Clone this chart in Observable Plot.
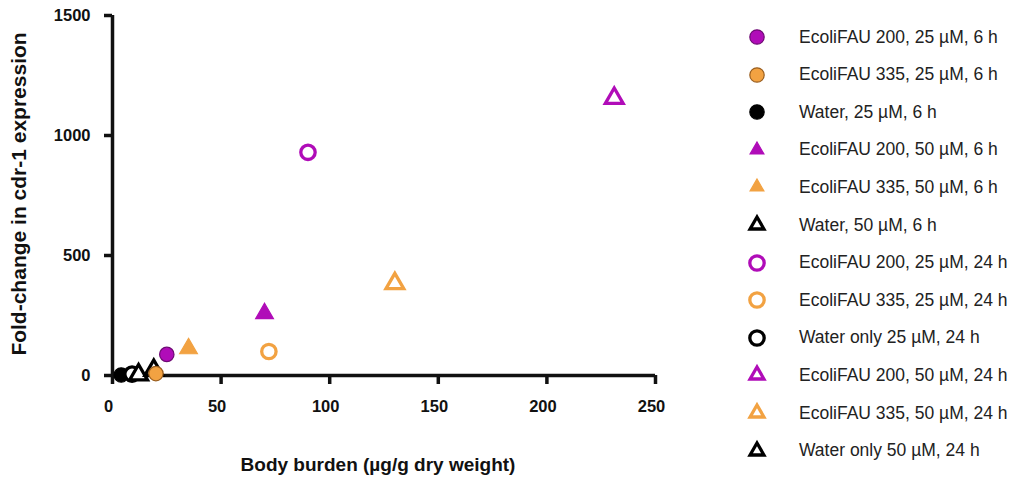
<!DOCTYPE html>
<html>
<head>
<meta charset="utf-8">
<script src="https://cdn.jsdelivr.net/npm/d3@7"></script>
<script src="https://cdn.jsdelivr.net/npm/@observablehq/plot@0.6"></script>
<style>
  html, body { margin: 0; padding: 0; background: #fff; }
  #wrap { position: relative; width: 1014px; height: 485px; overflow: hidden; font-family: "Liberation Sans", Arial, Helvetica, sans-serif; }
  #chart { position: absolute; left: 0; top: 0; }
  .ytitle { position: absolute; left: 19px; top: 194px; transform: translate(-50%, -50%) rotate(-90deg); white-space: nowrap; font-weight: bold; font-size: 21px; color: #111; }
  .xtitle { position: absolute; left: 378px; top: 465px; transform: translate(-50%, -50%); white-space: nowrap; font-weight: bold; font-size: 19px; color: #111; }
  #legend { position: absolute; left: 0; top: 0; }
  .lrow { position: absolute; left: 742px; height: 30px; display: flex; align-items: center; transform: translateY(-50%); white-space: nowrap; }
  .lrow svg { width: 30px; height: 30px; }
  .lrow span { position: absolute; left: 57px; font-size: 17.5px; color: #222; }
</style>
</head>
<body>
<div id="wrap">
  <div id="chart"></div>
  <div class="ytitle">Fold-change in cdr-1 expression</div>
  <div class="xtitle">Body burden (µg/g dry weight)</div>
  <div id="legend"></div>
</div>
<script>
// ---- Data ----
const seriesNames = [
  "EcoliFAU 200, 25 µM, 6 h",
  "EcoliFAU 335, 25 µM, 6 h",
  "Water, 25 µM, 6 h",
  "EcoliFAU 200, 50 µM, 6 h",
  "EcoliFAU 335, 50 µM, 6 h",
  "Water, 50 µM, 6 h",
  "EcoliFAU 200, 25 µM, 24 h",
  "EcoliFAU 335, 25 µM, 24 h",
  "Water only 25 µM, 24 h",
  "EcoliFAU 200, 50 µM, 24 h",
  "EcoliFAU 335, 50 µM, 24 h",
  "Water only 50 µM, 24 h"
];
const seriesSymbol = ["circle","circle","circle","triangle","triangle","triangle",
                      "circle","circle","circle","triangle","triangle","triangle"];
const seriesOpen = [false,false,false,false,false,true,true,true,true,true,true,true];
const seriesColor = ["#B00CB8","#F2A242","#000000","#B00CB8","#F2A242","#000000",
                     "#B00CB8","#F2A242","#000000","#B00CB8","#F2A242","#000000"];
const seriesOutline = ["#6E0A74","#9A5E1E","#000000","#B00CB8","#F2A242","#000000",
                       "#B00CB8","#F2A242","#000000","#B00CB8","#F2A242","#000000"];

// one point per series
const bodyBurden = [25, 20, 4, 70, 35, 19, 90, 72, 9, 231, 130, 12];
const foldChange = [88, 8, 2, 258, 112, 22, 930, 100, 6, 1155, 383, 3];

// draw order (back to front)
const drawOrder = [2, 8, 11, 5, 1, 0, 4, 3, 7, 6, 10, 9];

const xTicks = [0, 50, 100, 150, 200, 250];
const yTicks = [0, 500, 1000, 1500];

// ---- Build ----
const points = bodyBurden.map((x, i) => ({x, y: foldChange[i], s: i}));

function dotFor(i) {
  const open = seriesOpen[i];
  const tri = seriesSymbol[i] === "triangle";
  return Plot.dot(points.filter(p => p.s === i), {
    x: "x", y: "y",
    symbol: seriesSymbol[i],
    r: tri ? 6.6 : 7.2,
    fill: open ? "white" : seriesColor[i],
    stroke: seriesOutline[i],
    strokeWidth: open ? 3.3 : 1.2
  });
}

const chart = Plot.plot({
  width: 700,
  height: 485,
  marginLeft: 112,
  marginRight: 45,
  marginTop: 15,
  marginBottom: 110,
  x: {domain: [0, 250]},
  y: {domain: [0, 1500]},
  style: {fontFamily: "'Liberation Sans', Arial, Helvetica, sans-serif", background: "white", color: "#111", overflow: "visible"},
  marks: [
    // x ticks (marks only)
    Plot.axisX({ticks: xTicks, tickSize: 9, strokeWidth: 3.5, text: null, label: null}),
    // x tick labels, nudged slightly left as in the reference
    Plot.axisX({ticks: xTicks, tickSize: 0, tickPadding: 25, fontSize: 16.5, fontWeight: "bold", tickFormat: d3.format("d"), label: null, dx: -4}),
    Plot.axisY({ticks: yTicks, tickSize: 8, tickPadding: 14, strokeWidth: 3.5, fontSize: 16.5, fontWeight: "bold", tickFormat: d3.format("d"), label: null}),
    Plot.ruleY([0], {strokeWidth: 3.5, stroke: "#111"}),
    Plot.ruleX([0], {strokeWidth: 3.5, stroke: "#111"}),
    ...drawOrder.map(dotFor)
  ]
});
document.getElementById("chart").appendChild(chart);

// ---- Legend ----
const legend = d3.select("#legend");
seriesNames.forEach((name, i) => {
  const row = legend.append("div").attr("class", "lrow").style("top", (37 + i * 37.6) + "px");
  const svg = row.append("svg").attr("viewBox", "-15 -15 30 30");
  const tri = seriesSymbol[i] === "triangle";
  const r = tri ? 6.6 : 7.2;
  const open = seriesOpen[i];
  svg.append("path")
    .attr("d", d3.symbol(tri ? d3.symbolTriangle2 : d3.symbolCircle, Math.PI * r * r)())
    .attr("fill", open ? "white" : seriesColor[i])
    .attr("stroke", seriesOutline[i])
    .attr("stroke-width", open ? 3.3 : 1.2);
  row.append("span").text(name);
});
</script>
</body>
</html>
